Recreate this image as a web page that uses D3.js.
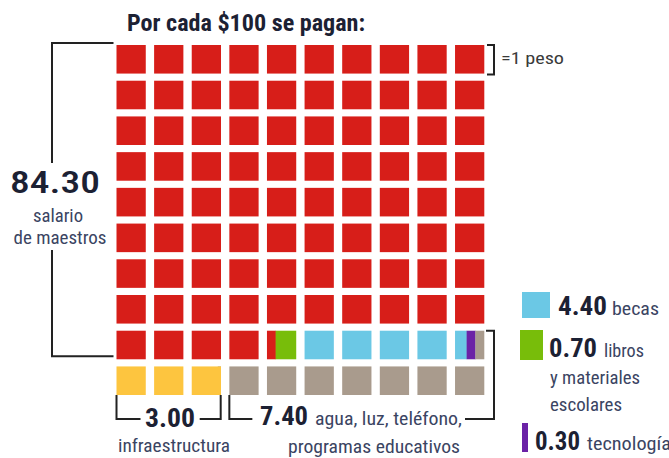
<!DOCTYPE html>
<html>
<head>
<meta charset="utf-8">
<script src="https://cdn.jsdelivr.net/npm/d3@7"></script>
<style>
  html, body { margin: 0; padding: 0; background: #ffffff; }
  svg { display: block; }
  .narrow { font-family: "Liberation Sans Narrow", "Roboto Condensed", "Liberation Sans", Arial, sans-serif; }
</style>
</head>
<body>
<svg id="chart" width="669" height="458"></svg>
<script>
// ---- data ----
const title = "Por cada $100 se pagan:";
const unitLabel = "=1 peso";
const categories = ["salario", "libros", "becas", "tecnologia", "otros", "infraestructura"];
const values = [84.30, 0.70, 4.40, 0.30, 7.40, 3.00];
const valueLabels = ["84.30", "0.70", "4.40", "0.30", "7.40", "3.00"];
const colors = ["#d71e19", "#78bd0a", "#6bc8e5", "#6b22a6", "#a99b8d", "#fdc53f"];
const descSalario = ["salario", "de maestros"];
const descOtros = ["agua, luz, teléfono,", "programas educativos"];
const descInfra = ["infraestructura"];
const descBecas = ["becas"];
const descLibros = ["libros", "y materiales", "escolares"];
const descTec = ["tecnología"];
const gridCols = d3.range(10);
const gridRows = d3.range(10);

// ---- layout ----
const svg = d3.select("#chart");
const x = d3.scaleBand().domain(gridCols).range([116.5, 484]).paddingInner(0.23).paddingOuter(0);
const y = d3.scaleBand().domain(gridRows).range([45, 395]).paddingInner(0.2).paddingOuter(0);
const bw = x.bandwidth(), bh = y.bandwidth();

// intervals along the 100-unit waffle (boustrophedon fill)
let cum = 0;
const intervals = values.map((v, i) => {
  let s = cum, e = cum + v;
  cum = e;
  if (i === values.length - 1 && e > 100) { s = 100 - v; e = 100; }
  return { key: categories[i], s, e, color: colors[i] };
});

const pieces = [];
intervals.forEach(iv => {
  for (let idx = Math.floor(iv.s); idx < Math.ceil(iv.e - 1e-9); idx++) {
    const f0 = Math.max(iv.s, idx) - idx;
    const f1 = Math.min(iv.e, idx + 1) - idx;
    if (f1 - f0 < 1e-6) continue;
    const row = Math.floor(idx / 10);
    const pos = idx % 10;
    const dir = row % 2 === 0 ? 1 : -1;
    const col = dir === 1 ? pos : 9 - pos;
    pieces.push({ row, col, f0, f1, dir, color: iv.color });
  }
});

svg.append("g").selectAll("rect").data(pieces).join("rect")
  .attr("x", d => d.dir === 1 ? x(d.col) + d.f0 * bw : x(d.col) + (1 - d.f1) * bw)
  .attr("y", d => y(d.row))
  .attr("width", d => (d.f1 - d.f0) * bw + 0.3)
  .attr("height", bh)
  .attr("fill", d => d.color);

// ---- lines / brackets ----
const line = d3.line();
const lines = svg.append("g").attr("fill", "none").attr("stroke", "#222").attr("stroke-width", 2);
const left = x(0) - 64.5;
// salary bracket
lines.append("path").attr("d", line([[x(0) - 3, y(0) - 2], [left, y(0) - 2], [left, 163]]));
lines.append("path").attr("d", line([[left, 250], [left, y(8) + bh - 3], [x(0) - 3, y(8) + bh - 3]]));
// unit bracket
const rx = x(9) + bw + 10;
lines.append("path").attr("d", line([[rx - 7, y(0)], [rx, y(0)], [rx, y(0) + bh + 1], [rx - 7, y(0) + bh + 1]]));
// infra bracket
const by = 419;
lines.append("path").attr("d", line([[x(0), y(9) + bh], [x(0), by], [x(0) + 24, by]]));
lines.append("path").attr("d", line([[x(2) + bw - 21, by], [x(2) + bw, by], [x(2) + bw, y(9) + bh]]));
// otros bracket
lines.append("path").attr("d", line([[x(3), y(9) + bh], [x(3), by], [x(3) + 23, by]]));
lines.append("path").attr("d", line([[465, by], [rx, by], [rx, y(8)], [rx - 8, y(8)]]));

// ---- text ----
function txt(str, xx, yy, opt) {
  const t = svg.append("text").attr("x", xx).attr("y", yy).text(str)
    .attr("class", opt.cls || "narrow")
    .attr("font-size", opt.size)
    .attr("font-weight", opt.weight || "normal")
    .attr("fill", opt.fill || "#3a4462")
    .attr("text-anchor", opt.anchor || "start");
  if (opt.len) t.attr("textLength", opt.len).attr("lengthAdjust", "spacingAndGlyphs");
  if (opt.family) t.attr("font-family", opt.family);
  return t;
}
const dark = "#1c2133";
const numFont = "'Liberation Sans', Arial, sans-serif";

txt(title, 127, 31, { size: 24, weight: "bold", fill: dark, len: 238 });
txt(unitLabel, 501, 64, { size: 16, fill: "#3a3a3a", len: 63 });

txt(valueLabels[0], 55, 193, { size: 31, anchor: "middle", fill: dark, len: 90, family: "'Open Sans', 'DejaVu Sans', sans-serif", weight: 500 });
txt(descSalario[0], 58, 222, { size: 18, anchor: "middle", len: 50 });
txt(descSalario[1], 60, 244, { size: 18, anchor: "middle", len: 93 });

txt(valueLabels[5], 145, 427, { size: 26, weight: "bold", fill: dark, len: 50, family: numFont });
txt(descInfra[0], 118, 452, { size: 19, len: 112 });

txt(valueLabels[4], 260, 425, { size: 26, weight: "bold", fill: dark, len: 48, family: numFont });
txt(descOtros[0], 315, 425, { size: 19, len: 147 });
txt(descOtros[1], 288, 453, { size: 19, len: 172 });

// legend
svg.append("rect").attr("x", 522).attr("y", 292).attr("width", 28).attr("height", 26).attr("fill", colors[2]);
txt(valueLabels[2], 558, 315, { size: 25, weight: "bold", fill: dark, len: 49, family: numFont });
txt(descBecas[0], 612, 315, { size: 19, len: 47 });

svg.append("rect").attr("x", 520).attr("y", 330).attr("width", 23).attr("height", 30).attr("fill", colors[1]);
txt(valueLabels[1], 549, 357, { size: 25, weight: "bold", fill: dark, len: 48, family: numFont });
txt(descLibros[0], 604, 357, { size: 19, len: 40 });
txt(descLibros[1], 550, 384, { size: 19, len: 90 });
txt(descLibros[2], 550, 411, { size: 19, len: 72 });

svg.append("rect").attr("x", 522).attr("y", 423).attr("width", 6).attr("height", 29).attr("fill", colors[3]);
txt(valueLabels[3], 535, 450, { size: 25, weight: "bold", fill: dark, len: 45, family: numFont });
txt(descTec[0], 587, 450, { size: 19, len: 84 });
</script>
</body>
</html>
